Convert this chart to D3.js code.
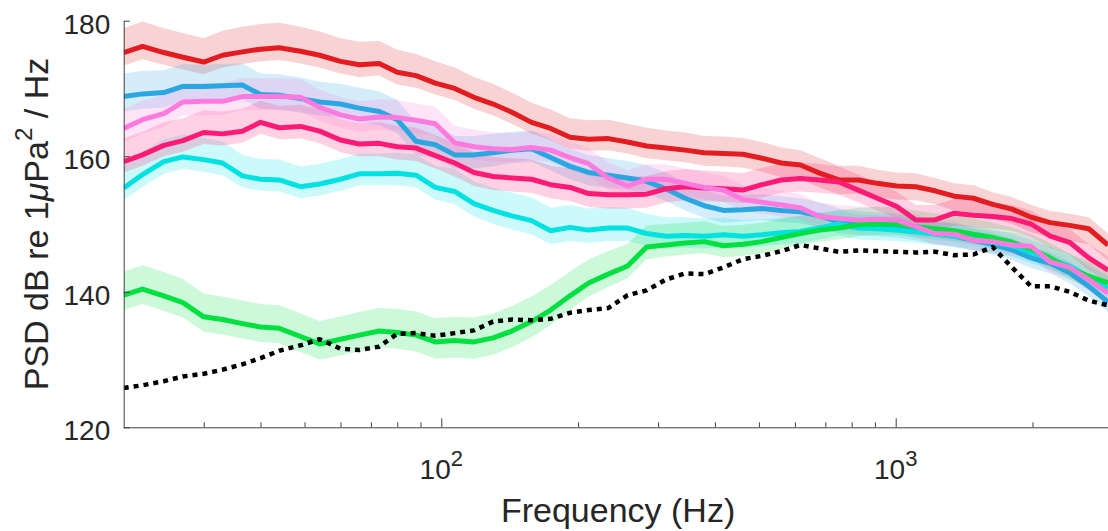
<!DOCTYPE html>
<html>
<head>
<meta charset="utf-8">
<script src="https://cdn.jsdelivr.net/npm/d3@7"></script>
<style>
  body { margin: 0; background: #fff; }
  svg text { font-family: "Liberation Sans", Arial, Helvetica, sans-serif; fill: #262626; }
</style>
</head>
<body>
<svg id="chart" width="1108" height="531"></svg>
<script>
// frequencies (Hz) of the spectrum points
const freqs = [20,22,24.5,27,30,33,36.5,40,44,49,54,60,66,73,80,88,97,107,118,130,143,158,174,192,211,233,257,283,312,344,379,418,461,508,560,617,680,750,827,911,1004,1107,1220,1345,1483,1635,1802,1986,2189,2413,2660,2932];

// PSD levels, dB re 1uPa^2/Hz
const red = [175.3,176.2,175.3,174.6,173.9,174.9,175.4,175.8,176.0,175.5, 174.9,174.0,173.5,173.7,172.4,171.9,170.8,170.0,168.7,167.7, 166.5,165.0,164.1,162.8,162.5,162.6,162.1,161.5,161.2,160.9, 160.5,160.4,160.3,159.7,159.0,158.7,157.5,156.5,156.5,156.0, 155.6,155.5,154.9,154.1,153.8,152.9,152.2,151.0,150.2,149.8, 149.3,146.9];
const blue = [168.8,169.2,169.4,170.3,170.3,170.4,170.5,169.1,169.0,168.5, 168.0,167.7,167.1,166.6,165.4,162.2,161.7,160.2,160.2,160.5, 160.9,161.1,159.8,158.5,157.6,157.2,156.8,156.3,155.2,153.8, 152.7,152.0,152.1,152.3,152.0,151.8,151.2,150.3,150.0,149.8, 149.6,149.2,148.6,148.2,147.6,147.0,146.2,145.0,144.2,142.8, 140.8,138.5];
const pink = [164.1,165.4,166.3,168.0,168.1,168.1,168.8,168.8,168.8,168.7, 167.2,166.1,165.5,165.8,165.7,165.3,164.8,162.0,161.4,161.1, 161.0,161.3,160.9,159.8,158.9,156.8,155.6,156.6,156.6,156.0, 155.4,155.0,153.6,153.2,152.8,152.4,151.1,150.8,150.6,150.7, 150.6,149.6,148.6,148.5,147.6,147.4,146.9,146.7,144.4,143.6, 141.8,139.8];
const crimson = [159.2,160.2,161.6,162.3,163.5,163.3,163.7,165.0,164.2,164.4, 163.7,162.4,161.8,161.9,161.4,161.2,160.1,159.0,157.6,157.0, 156.8,156.6,155.8,155.4,154.5,154.3,154.3,154.4,155.2,155.5, 155.3,155.2,155.0,155.8,156.5,156.7,156.5,156.2,155.0,153.8, 152.6,150.6,150.6,151.6,151.3,151.1,150.8,150.0,148.2,147.3, 145.0,143.2];
const cyan = [155.3,157.3,159.2,159.9,159.5,159.0,157.1,156.6,156.5,155.5, 155.9,156.6,157.4,157.4,157.5,157.2,155.4,154.8,153.0,152.0, 151.2,150.5,149.0,149.5,149.1,149.4,149.4,148.6,148.2,148.3, 148.2,148.4,148.2,148.4,148.7,148.9,149.4,150.0,149.4,149.3, 149.1,148.8,148.5,148.2,147.8,147.3,146.8,145.8,144.8,143.8, 142.2,140.5];
const green = [139.5,140.4,139.4,138.4,136.3,135.9,135.3,134.8,134.6,133.4, 132.3,133.0,133.6,134.2,134.0,133.6,132.6,132.8,132.6,133.2, 134.2,135.6,137.3,139.4,141.3,142.6,143.8,146.6,146.9,147.2, 147.4,146.8,147.0,147.4,148.0,148.6,149.1,149.4,149.9,150.0, 150.0,149.6,149.3,149.0,148.5,148.0,147.3,146.3,145.0,143.4, 142.3,141.3];
const noise = [125.8,126.2,126.8,127.5,127.9,128.5,129.3,130.2,131.3,132.1, 133.0,131.6,131.4,131.9,133.8,133.9,133.5,133.9,134.3,135.6, 135.9,135.8,136.0,136.9,137.3,137.6,139.5,140.2,141.8,142.7, 142.6,143.6,144.8,145.3,146.0,146.9,146.4,145.9,146.1,146.0, 145.9,145.8,145.9,145.4,145.5,146.6,143.6,140.8,140.8,140.0, 138.7,138.0];

// shaded spread above / below each curve (dB)
const redUp = [3.6,3.7,3.6,3.6,3.5,3.6,3.7,3.7,3.7,3.6, 3.5,3.4,3.4,3.3,3.3,3.2,3.2,3.1,3.0,3.0, 2.9,2.9,2.8,2.8,2.8,2.8,2.7,2.7,2.6,2.6, 2.5,2.5,2.4,2.4,2.3,2.2,2.2,2.1,2.1,2.0, 2.0,2.0,1.9,1.9,1.9,1.8,1.8,1.8,1.7,1.7, 1.7,1.7];
const redLo = [1.9,1.9,1.8,1.8,1.8,1.8,1.8,1.8,1.8,1.8, 1.8,1.8,1.8,1.8,1.8,1.8,1.7,1.7,1.7,1.7, 1.7,1.7,1.7,1.7,1.7,1.7,1.7,1.8,1.8,1.8, 1.9,1.9,2.0,2.0,2.1,2.1,2.1,2.1,2.0,2.0, 2.0,2.0,2.0,2.1,2.1,2.1,2.2,2.2,2.2,2.3, 2.3,2.3];
const blueUp = [3.4,3.4,3.3,3.3,3.2,3.2,3.2,3.1,3.1,3.1, 3.0,3.0,3.0,3.0,2.9,2.9,2.9,2.8,2.8,2.8, 2.7,2.7,2.7,2.6,2.6,2.5,2.5,2.4,2.4,2.3, 2.3,2.2,2.2,2.1,2.1,2.0,2.0,2.0,1.9,1.9, 1.9,1.8,1.8,1.8,1.7,1.7,1.7,1.6,1.6,1.6, 1.6,1.6];
const blueLo = [2.2,2.2,2.2,2.2,2.2,2.1,2.1,2.1,2.1,2.1, 2.0,2.0,2.0,2.0,2.0,2.0,2.0,2.0,2.0,2.0, 1.9,1.9,1.9,1.9,1.9,1.9,1.8,1.8,1.8,1.8, 1.8,1.8,1.7,1.7,1.7,1.7,1.7,1.7,1.6,1.6, 1.6,1.6,1.6,1.6,1.5,1.5,1.5,1.5,1.5,1.5, 1.5,1.5];
const pinkUp = [2.8,2.8,2.8,2.8,2.7,2.7,2.7,2.7,2.7,2.7, 2.6,2.6,2.6,2.6,2.6,2.5,2.5,2.5,2.5,2.4, 2.4,2.4,2.4,2.3,2.3,2.3,2.3,2.2,2.2,2.2, 2.2,2.1,2.1,2.1,2.1,2.0,2.0,2.0,2.0,1.9, 1.9,1.9,1.9,1.9,1.8,1.8,1.8,1.8,1.8,1.8, 1.8,1.8];
const pinkLo = [2.0,2.0,2.0,2.0,2.0,2.0,2.0,2.0,2.0,2.0, 2.0,1.9,1.9,1.9,1.9,1.9,1.9,1.9,1.9,1.9, 1.8,1.8,1.8,1.8,1.8,1.8,1.8,1.8,1.8,1.8, 1.7,1.7,1.7,1.7,1.7,1.7,1.7,1.7,1.7,1.7, 1.6,1.6,1.6,1.6,1.6,1.6,1.6,1.6,1.6,1.6, 1.6,1.6];
const crimsonUp = [3.4,3.4,3.4,3.3,3.3,3.3,3.3,3.2,3.2,3.2, 3.2,3.1,3.1,3.1,3.1,3.0,3.0,3.0,3.0,2.9, 2.9,2.9,2.8,2.8,2.8,2.7,2.7,2.7,2.6,2.6, 2.6,2.5,2.5,2.5,2.4,2.4,2.4,2.3,2.3,2.3, 2.2,2.2,2.2,2.1,2.1,2.1,2.0,2.0,2.0,2.0, 2.0,2.0];
const crimsonLo = [1.6,1.6,1.6,1.6,1.7,1.7,1.7,1.7,1.7,1.8, 1.8,1.8,1.8,1.9,1.9,1.9,1.9,2.0,2.0,2.0, 2.0,2.0,2.0,2.0,2.0,2.0,2.0,2.0,2.0,2.0, 1.9,1.9,1.9,1.9,1.9,1.9,1.9,1.9,1.8,1.8, 1.8,1.8,1.8,1.8,1.8,1.8,1.8,1.8,1.8,1.8, 1.8,1.8];
const cyanUp = [3.4,3.4,3.3,3.3,3.2,3.2,3.1,3.0,3.0,3.0, 3.0,3.0,3.0,3.0,3.0,3.1,3.2,3.3,3.3,3.4, 3.4,3.4,3.4,3.3,3.2,3.1,3.0,2.9,2.8,2.7, 2.6,2.5,2.4,2.3,2.2,2.2,2.1,2.1,2.0,2.0, 2.0,1.9,1.9,1.9,1.8,1.8,1.8,1.8,1.8,1.8, 1.8,1.8];
const cyanLo = [1.8,1.8,1.8,1.8,1.8,1.8,1.7,1.7,1.7,1.7, 1.7,1.7,1.7,1.7,1.8,1.8,1.8,1.9,1.9,2.0, 2.0,2.0,2.0,2.0,1.9,1.9,1.9,1.8,1.8,1.8, 1.8,1.8,1.7,1.7,1.7,1.7,1.7,1.7,1.7,1.7, 1.6,1.6,1.6,1.6,1.6,1.6,1.6,1.6,1.6,1.6, 1.6,1.6];
const greenUp = [3.5,3.5,3.5,3.5,3.4,3.4,3.4,3.4,3.4,3.4, 3.4,3.4,3.4,3.4,3.5,3.5,3.5,3.5,3.6,3.6, 3.7,3.7,3.7,3.6,3.5,3.4,3.3,3.2,3.1,3.0, 3.0,2.9,2.9,2.8,2.8,2.7,2.6,2.6,2.5,2.5, 2.4,2.4,2.3,2.3,2.3,2.2,2.2,2.2,2.2,2.2, 2.2,2.2];
const greenLo = [2.2,2.2,2.2,2.2,2.2,2.2,2.2,2.2,2.2,2.3, 2.3,2.4,2.4,2.4,2.4,2.4,2.5,2.5,2.5,2.5, 2.4,2.3,2.2,2.1,2.0,1.9,1.8,1.8,1.7,1.7, 1.7,1.7,1.7,1.7,1.7,1.7,1.7,1.7,1.7,1.6, 1.6,1.6,1.6,1.6,1.6,1.6,1.6,1.6,1.6,1.6, 1.6,1.6];

// axis ticks
const yTicks = [120, 140, 160, 180];
const xMajorTicks = [100, 1000];
const xMinorTicks = [30,40,50,60,70,80,90,200,300,400,500,600,700,800,900,2000,3000];

class PsdChart {
    constructor(config) {
        this.config = {
            parent: config.parent,
            width: config.width || 1108,
            height: config.height || 531,
            xDomain: config.xDomain,
            yDomain: config.yDomain,
            plot: config.plot
        };
        this.series = config.series;
        this.init();
    }

    init() {
        let self = this;
        const p = self.config.plot;
        self.svg = d3.select(self.config.parent)
            .attr('width', self.config.width)
            .attr('height', self.config.height);

        self.xscale = d3.scaleLog()
            .domain(self.config.xDomain)
            .range([p.left, p.right]);
        self.yscale = d3.scaleLinear()
            .domain(self.config.yDomain)
            .range([p.bottom, p.top]);

        self.svg.append('defs').append('clipPath').attr('id', 'plotclip')
            .append('rect')
            .attr('x', p.left).attr('y', p.top - 10)
            .attr('width', p.right - p.left).attr('height', p.bottom - p.top + 10);

        self.bandGroup = self.svg.append('g').attr('clip-path', 'url(#plotclip)');
        self.lineGroup = self.svg.append('g').attr('clip-path', 'url(#plotclip)');
        self.axisGroup = self.svg.append('g');
    }

    render() {
        let self = this;
        const p = self.config.plot;

        const area = d3.area()
            .x(d => self.xscale(d.f))
            .y0(d => self.yscale(d.v - d.lo))
            .y1(d => self.yscale(d.v + d.up));
        const line = d3.line()
            .x(d => self.xscale(d.f))
            .y(d => self.yscale(d.v));

        const rows = s => freqs.map((f, i) => ({
            f: f, v: s.values[i],
            up: s.up ? s.up[i] : 0,
            lo: s.lo ? s.lo[i] : 0
        }));

        self.bandGroup.selectAll('path')
            .data(self.series.filter(s => s.up))
            .join('path')
            .attr('d', s => area(rows(s)))
            .attr('fill', s => s.color)
            .attr('fill-opacity', 0.2)
            .attr('stroke', 'none');

        self.lineGroup.selectAll('path')
            .data(self.series)
            .join('path')
            .attr('d', s => line(rows(s)))
            .attr('fill', 'none')
            .attr('stroke', s => s.color)
            .attr('stroke-width', s => s.dash ? 4.5 : 5)
            .attr('stroke-linejoin', 'round')
            .attr('stroke-dasharray', s => s.dash || null);

        // y axis, ticks pointing inwards
        const yaxis = d3.axisLeft(self.yscale)
            .tickValues(yTicks)
            .tickSizeInner(-6)
            .tickSizeOuter(0)
            .tickPadding(13.5);
        const yg = self.axisGroup.append('g')
            .attr('transform', `translate(${p.left},0)`)
            .call(yaxis);
        yg.selectAll('text')
            .attr('font-size', '28px')
            .attr('dy', '0.44em');

        // x axis, major ticks
        const xaxis = d3.axisBottom(self.xscale)
            .tickValues(xMajorTicks)
            .tickSizeInner(-9)
            .tickSizeOuter(0)
            .tickFormat('');
        const xg = self.axisGroup.append('g')
            .attr('transform', `translate(0,${p.bottom})`)
            .call(xaxis);
        xg.select('.domain').attr('d', `M${p.left},0.5H${self.config.width + 20}`);

        // x axis, minor ticks
        const xminor = d3.axisBottom(self.xscale)
            .tickValues(xMinorTicks)
            .tickSizeInner(-5)
            .tickSizeOuter(0)
            .tickFormat('');
        const xmg = self.axisGroup.append('g')
            .attr('transform', `translate(0,${p.bottom})`)
            .call(xminor);
        xmg.select('.domain').remove();

        self.axisGroup.selectAll('.domain, .tick line')
            .attr('stroke', '#404040')
            .attr('stroke-width', 1);

        // decade labels 10^n
        const lab = self.axisGroup.append('g').selectAll('text')
            .data(xMajorTicks)
            .join('text')
            .attr('x', d => self.xscale(d))
            .attr('y', p.bottom + 52)
            .attr('text-anchor', 'middle')
            .attr('font-size', '28px');
        lab.append('tspan').text('10');
        lab.append('tspan')
            .attr('font-size', '22px')
            .attr('dy', '-13')
            .text(d => Math.round(Math.log10(d)));

        // axis titles
        self.axisGroup.append('text')
            .attr('x', (p.left + p.right) / 2)
            .attr('y', 522)
            .attr('text-anchor', 'middle')
            .attr('font-size', '34px')
            .text('Frequency (Hz)');

        const yt = self.axisGroup.append('text')
            .attr('transform', `translate(48,${(p.top + p.bottom) / 2}) rotate(-90)`)
            .attr('text-anchor', 'middle')
            .attr('font-size', '34px');
        yt.append('tspan').text('PSD dB re 1');
        yt.append('tspan').attr('font-style', 'italic').text('\u03BC');
        yt.append('tspan').text('Pa');
        yt.append('tspan').attr('font-size', '24px').attr('dy', '-16').text('2');
        yt.append('tspan').attr('dy', '16').text(' / Hz');
    }
}

const chart = new PsdChart({
    parent: '#chart',
    width: 1108,
    height: 531,
    xDomain: [20, 3000],
    yDomain: [120, 180],
    plot: {left: 123.7, right: 1112.5, top: 20.7, bottom: 427.3},
    series: [
        {values: red, up: redUp, lo: redLo, color: '#e31c21'},
        {values: blue, up: blueUp, lo: blueLo, color: '#2aa6e0'},
        {values: cyan, up: cyanUp, lo: cyanLo, color: '#00e2e2'},
        {values: green, up: greenUp, lo: greenLo, color: '#00e040'},
        {values: crimson, up: crimsonUp, lo: crimsonLo, color: '#ff1a75'},
        {values: pink, up: pinkUp, lo: pinkLo, color: '#ff7ade'},
        {values: noise, color: '#000000', dash: '5,5'}
    ]
});
chart.render();
</script>
</body>
</html>
